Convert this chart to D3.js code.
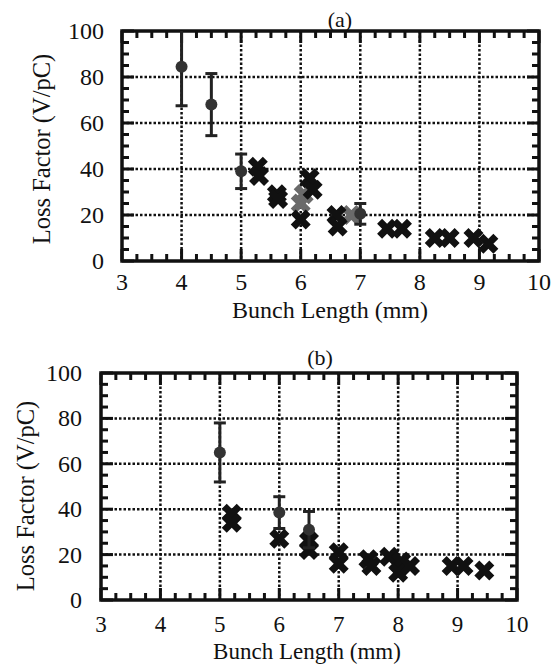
<!DOCTYPE html>
<html>
<head>
<meta charset="utf-8">
<script src="https://cdn.jsdelivr.net/npm/d3@7"></script>
<style>
  body { margin: 0; background: #fff; }
  svg { display: block; }
  text { font-family: "Liberation Serif", "Times New Roman", serif; fill: #111; }
</style>
</head>
<body>
<svg id="chart" width="557" height="664"></svg>
<script>
// x ticks / y ticks shared by both panels
const xTicks = [3, 4, 5, 6, 7, 8, 9, 10];
const yTicks = [0, 20, 40, 60, 80, 100];

// panel (a): measured points with error bars [x, y, err]
const aCircles = [[4.0, 84.5, 17], [4.5, 68, 13.5], [5.0, 39, 7.5], [7.0, 20.5, 4.5]];
// panel (a): simulation points (dark)
const aCrosses = [[5.28, 41], [5.3, 37], [5.6, 29], [5.62, 27], [6.15, 36], [6.2, 31],
  [6.0, 18], [6.6, 20], [6.62, 15], [7.45, 14], [7.7, 14], [8.25, 10], [8.5, 10], [8.9, 10], [9.15, 7.5]];
// panel (a): simulation points (grey)
const aGrey = [[6.0, 25], [6.05, 29], [6.85, 20]];

// panel (b)
const bCircles = [[5.0, 65, 13], [6.0, 38.5, 7], [6.5, 31, 8]];
const bCrosses = [[5.2, 38], [5.2, 34], [6.0, 27], [6.5, 26], [6.5, 22], [7.0, 21], [7.0, 16],
  [7.5, 18], [7.55, 15], [7.85, 19], [8.05, 17], [8.0, 12], [8.2, 15], [8.9, 15], [9.1, 15], [9.45, 13]];
const bGrey = [];

const svg = d3.select('#chart');

function drawPanel(p) {
  const x = d3.scaleLinear().domain([3, 10]).range([p.left, p.right]);
  const y = d3.scaleLinear().domain([0, 100]).range([p.bottom, p.top]);
  const g = svg.append('g');

  // dotted grid
  g.selectAll('.gx').data(xTicks.slice(1, -1)).enter().append('line')
      .attr('x1', d => x(d)).attr('x2', d => x(d))
      .attr('y1', p.top).attr('y2', p.bottom)
      .attr('stroke', '#111').attr('stroke-width', 2.5).attr('stroke-dasharray', '2.5,2');
  g.selectAll('.gy').data(yTicks.slice(1, -1)).enter().append('line')
      .attr('y1', d => y(d)).attr('y2', d => y(d))
      .attr('x1', p.left).attr('x2', p.right)
      .attr('stroke', '#111').attr('stroke-width', 2.5).attr('stroke-dasharray', '2.5,2');

  // inward ticks on all four sides
  const xMinor = d3.range(3, 10.001, 0.25);
  const yMinor = d3.range(0, 100.001, 5);
  const isMajX = d => Math.abs(d - Math.round(d)) < 1e-6;
  const isMajY = d => d % 20 === 0;
  [[p.bottom, -1], [p.top, 1]].forEach(([yy, s]) => {
    g.selectAll(null).data(xMinor).enter().append('line')
        .attr('x1', d => x(d)).attr('x2', d => x(d))
        .attr('y1', yy).attr('y2', d => yy + s * (isMajX(d) ? 12 : 7))
        .attr('stroke', '#111').attr('stroke-width', 3);
  });
  [[p.left, 1], [p.right, -1]].forEach(([xx, s]) => {
    g.selectAll(null).data(yMinor).enter().append('line')
        .attr('y1', d => y(d)).attr('y2', d => y(d))
        .attr('x1', xx).attr('x2', d => xx + s * (isMajY(d) ? 12 : 7))
        .attr('stroke', '#111').attr('stroke-width', 3);
  });

  g.append('rect')
      .attr('x', p.left).attr('y', p.top)
      .attr('width', p.right - p.left).attr('height', p.bottom - p.top)
      .attr('fill', 'none').attr('stroke', '#111').attr('stroke-width', 3.5);

  // tick labels
  g.selectAll(null).data(xTicks).enter().append('text')
      .attr('x', d => x(d)).attr('y', p.xLabelY)
      .attr('text-anchor', 'middle').attr('font-size', p.xLabelSize).text(d => d);
  g.selectAll(null).data(yTicks).enter().append('text')
      .attr('x', p.yLabelX).attr('y', d => y(d) + 8)
      .attr('text-anchor', 'end').attr('font-size', 24).text(d => d);

  g.append('text').attr('x', p.titleX).attr('y', p.titleY)
      .attr('text-anchor', 'middle').attr('font-size', 22).text(p.title);
  g.append('text').attr('x', p.xTitleX).attr('y', p.xTitleY)
      .attr('text-anchor', 'middle').attr('font-size', p.xTitleSize).text('Bunch Length (mm)');
  g.append('text')
      .attr('transform', `translate(${p.yTitleX},${p.yTitleY}) rotate(-90)`)
      .attr('text-anchor', 'middle').attr('font-size', 24.5).text('Loss Factor (V/pC)');

  // data, clipped to frame
  const clipId = 'clip' + p.title.replace(/\W/g, '');
  svg.append('clipPath').attr('id', clipId).append('rect')
      .attr('x', p.left).attr('y', p.top)
      .attr('width', p.right - p.left).attr('height', p.bottom - p.top);
  const m = g.append('g').attr('clip-path', `url(#${clipId})`);

  const cross = d3.symbol().type(d3.symbolCross).size(250);
  m.selectAll(null).data(p.grey).enter().append('path')
      .attr('d', cross)
      .attr('transform', d => `translate(${x(d[0])},${y(d[1])}) rotate(45)`)
      .attr('fill', '#6a6a6a');
  m.selectAll(null).data(p.crosses).enter().append('path')
      .attr('d', cross)
      .attr('transform', d => `translate(${x(d[0])},${y(d[1])}) rotate(45)`)
      .attr('fill', '#111');

  const eb = m.selectAll(null).data(p.circles).enter().append('g');
  eb.append('line')
      .attr('x1', d => x(d[0])).attr('x2', d => x(d[0]))
      .attr('y1', d => y(d[1] - d[2])).attr('y2', d => y(d[1] + d[2]))
      .attr('stroke', '#222').attr('stroke-width', 3);
  [-1, 1].forEach(s => {
    eb.append('line')
        .attr('x1', d => x(d[0]) - 6).attr('x2', d => x(d[0]) + 6)
        .attr('y1', d => y(d[1] + s * d[2])).attr('y2', d => y(d[1] + s * d[2]))
        .attr('stroke', '#222').attr('stroke-width', 3);
  });
  eb.append('circle')
      .attr('cx', d => x(d[0])).attr('cy', d => y(d[1])).attr('r', 6)
      .attr('fill', '#333');
}

drawPanel({
  left: 122, right: 539, top: 31, bottom: 261,
  circles: aCircles, crosses: aCrosses, grey: aGrey,
  title: '(a)', titleX: 340, titleY: 27,
  xLabelY: 290, yLabelX: 104, xLabelSize: 24,
  xTitleX: 330, xTitleY: 318, xTitleSize: 24,
  yTitleX: 50, yTitleY: 149
});

drawPanel({
  left: 101, right: 517, top: 373, bottom: 600,
  circles: bCircles, crosses: bCrosses, grey: bGrey,
  title: '(b)', titleX: 320, titleY: 365,
  xLabelY: 632, yLabelX: 82, xLabelSize: 23,
  xTitleX: 307, xTitleY: 659, xTitleSize: 23,
  yTitleX: 34, yTitleY: 496
});
</script>
</body>
</html>
